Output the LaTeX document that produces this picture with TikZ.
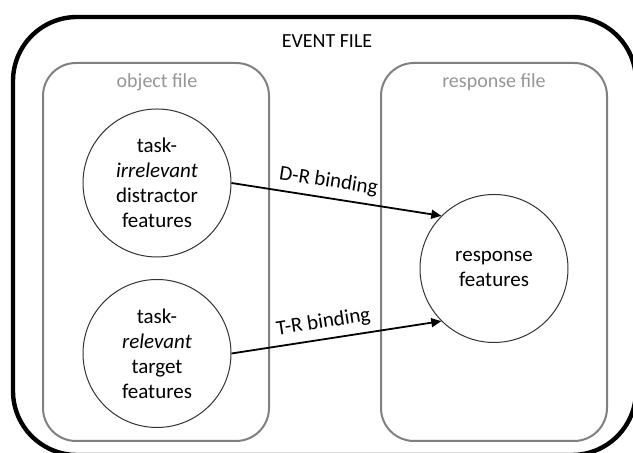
\documentclass[tikz,border=0pt]{standalone}
\usepackage{fontspec}
\setmainfont{Carlito}
\usetikzlibrary{arrows.meta}
\definecolor{filegray}{RGB}{128,128,128}
\definecolor{labelgray}{RGB}{150,150,150}
\tikzset{
  feature/.style={circle, draw=black!80, line width=0.5pt, minimum size=74pt, inner sep=0pt, align=center, font=\fontsize{10.5}{12.5}\selectfont},
  filebox/.style={draw=filegray, line width=1pt, rounded corners=16.5pt},
  filelabel/.style={text=labelgray, font=\fontsize{10}{12}\selectfont},
  binding/.style={-{Triangle[length=5pt,width=4.5pt]}, line width=0.9pt},
  bindlabel/.style={sloped, above, pos=0.45, font=\fontsize{10.5}{12}\selectfont},
}
\begin{document}
\begin{tikzpicture}[x=0.5pt,y=0.5pt]
		\useasboundingbox (0,0) rectangle (633,453);
		\clip (0,0) rectangle (633,453);
		% event file
		\draw [line width=2.2pt, rounded corners=32pt] (13,-2) rectangle (636,436);
		\node [font=\fontsize{10}{12}\selectfont] (event) at (327,412) {EVENT FILE};
		% object file and response file
		\draw [filebox] (43,12) rectangle (269,390);
		\draw [filebox] (381,12) rectangle (607,390);
		\node [filelabel] (objlabel) at (157,371) {object file};
		\node [filelabel] (resplabel) at (494,371) {response file};
		% features
		\node [feature] (distractor) at (157,270) {task-\\\textit{irrelevant}\\distractor\\features};
		\node [feature] (target) at (157,99.5) {task-\\\textit{relevant}\\target\\features};
		\node [feature] (response) at (494,184.5) {response\\features};
		% bindings
		\draw [binding] (distractor.east) -- node[bindlabel]{D-R binding} (response.135);
		\draw [binding] (target.east) -- node[bindlabel]{T-R binding} (response.225);
\end{tikzpicture}
\end{document}
